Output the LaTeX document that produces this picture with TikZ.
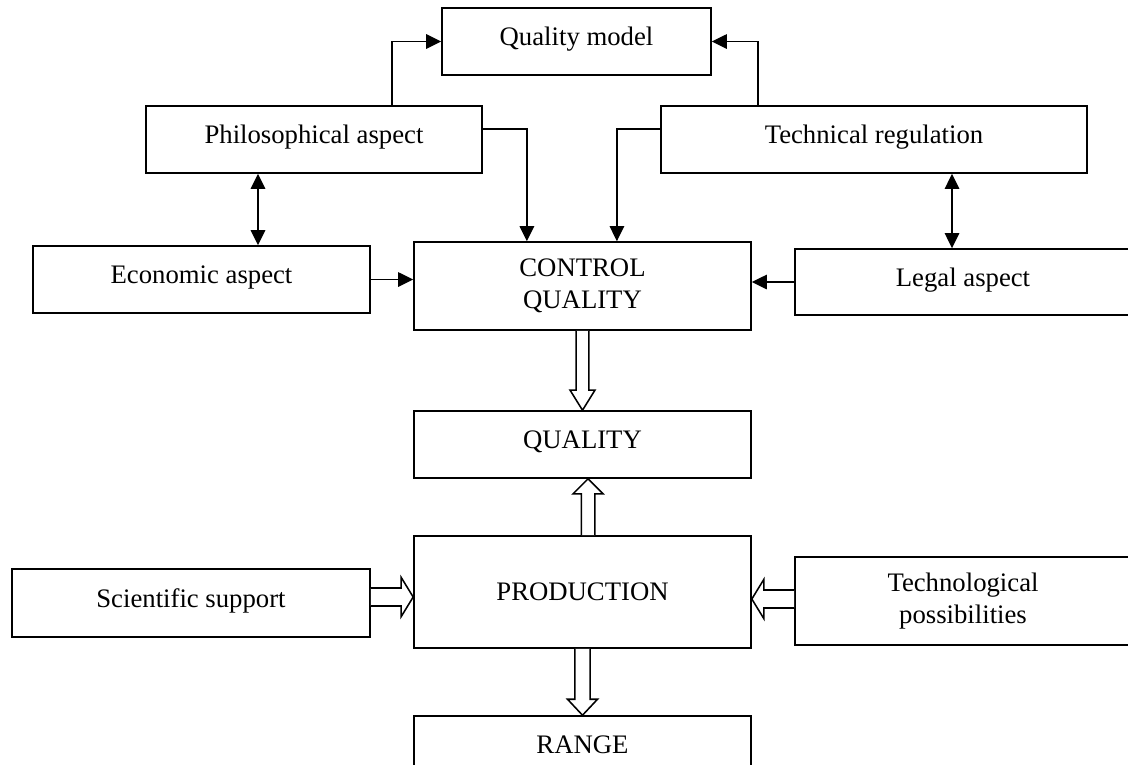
\documentclass[tikz,border=0pt]{standalone}
\usepackage{fontspec}
\setmainfont{Liberation Serif}
\usetikzlibrary{arrows.meta,calc}

% hollow block arrows: from, to, shift, shaft half, head half, head length
\newcommand{\vhollow}[6]{%
  \draw[hollow] let \p1=(#1), \p2=([xshift=#3]#2) in
    ({\x2-#4},\y1) -- ({\x2-#4},{\y2+(#6)}) -- ({\x2-#5},{\y2+(#6)}) -- (\x2,\y2)
    -- ({\x2+#5},{\y2+(#6)}) -- ({\x2+#4},{\y2+(#6)}) -- ({\x2+#4},\y1);}
\newcommand{\hhollow}[6]{%
  \draw[hollow] let \p1=(#1), \p2=([yshift=#3]#2) in
    (\x1,{\y2-#4}) -- ({\x2+(#6)},{\y2-#4}) -- ({\x2+(#6)},{\y2-#5}) -- (\x2,\y2)
    -- ({\x2+(#6)},{\y2+#5}) -- ({\x2+(#6)},{\y2+#4}) -- (\x1,{\y2+#4});}

\begin{document}
\begin{tikzpicture}[
    x=0.025cm, y=-0.025cm,
    box/.style={rectangle, draw, line width=1.1pt, inner sep=0pt, align=center, font=\fontsize{19}{22.5}\selectfont},
    oneline/.style={box, text height=0.5cm, text depth=0.3cm},
    arrow/.style={-{Triangle[length=0.375cm, width=0.36cm]}, line width=1.1pt},
    twoway/.style={{Triangle[length=0.375cm, width=0.36cm]}-{Triangle[length=0.375cm, width=0.36cm]}, line width=1.1pt},
    hollow/.style={fill=white, line width=1.1pt, line join=miter}
]
\clip (0,0) rectangle (1128,764);

% Upper blocks
\node[oneline, minimum width=6.725cm, minimum height=1.675cm] (qmodel) at (576.5,41.5) {Quality model};
\node[oneline, minimum width=8.4cm, minimum height=1.675cm] (philo) at (314,139.5) {Philosophical aspect};
\node[oneline, minimum width=10.65cm, minimum height=1.675cm] (techreg) at (874,139.5) {Technical regulation};

% Control level
\node[oneline, minimum width=8.425cm, minimum height=1.675cm] (econ) at (201.5,279.5) {Economic aspect};
\node[box, minimum width=8.425cm, minimum height=2.2cm] (control) at (582.5,286) {CONTROL\\QUALITY};
\node[oneline, minimum width=8.4cm, minimum height=1.65cm] (legal) at (963,282) {Legal aspect};

% Quality and production
\node[oneline, minimum width=8.425cm, minimum height=1.675cm] (quality) at (582.5,444.5) {QUALITY};
\node[box, minimum width=8.425cm, minimum height=2.8cm] (production) at (582.5,592) {PRODUCTION};
\node[oneline, minimum width=8.95cm, minimum height=1.7cm] (science) at (191,603) {Scientific support};
\node[box, minimum width=8.4cm, minimum height=2.2cm] (techposs) at (963,601) {Technological\\possibilities};
\node[oneline, minimum width=8.425cm, minimum height=1.675cm] (range) at (582.5,749.5) {RANGE};

% Links to the quality model
\draw[arrow] ([xshift=1.95cm]philo.north) |- (qmodel.west);
\draw[arrow] ([xshift=-2.9cm]techreg.north) |- (qmodel.east);

% Links to control quality
\draw[arrow] ([yshift=0.26cm]philo.east) -| ([xshift=-1.39cm]control.north);
\draw[arrow] ([yshift=0.26cm]techreg.west) -| ([xshift=0.86cm]control.north);
\draw[arrow] (econ.east) -- (econ.east -| control.west);
\draw[arrow] (legal.west) -- (legal.west -| control.east);
\draw[twoway] ([xshift=-1.4cm]philo.south) -- ([xshift=-1.4cm]philo.south |- econ.north);
\draw[twoway] ([xshift=1.95cm]techreg.south) -- ([xshift=1.95cm]techreg.south |- legal.north);

% Block arrows
\vhollow{control.south}{quality.north}{0cm}{0.16cm}{0.31cm}{0.5cm}
\vhollow{production.north}{quality.south}{0.14cm}{0.17cm}{0.375cm}{-0.375cm}
\vhollow{production.south}{range.north}{0cm}{0.19cm}{0.375cm}{0.4cm}
\hhollow{science.east}{production.west}{-0.125cm}{0.225cm}{0.49cm}{-0.3cm}
\hhollow{techposs.west}{production.east}{-0.175cm}{0.225cm}{0.49cm}{0.3cm}

\end{tikzpicture}
\end{document}
